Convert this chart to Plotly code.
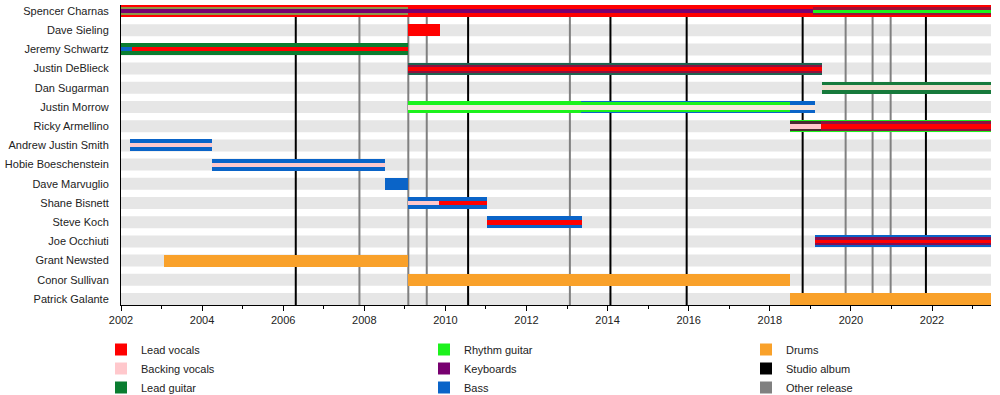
import plotly.graph_objects as go

# ---------------- data ----------------
members = ["Spencer Charnas", "Dave Sieling", "Jeremy Schwartz", "Justin DeBlieck",
           "Dan Sugarman", "Justin Morrow", "Ricky Armellino", "Andrew Justin Smith",
           "Hobie Boeschenstein", "Dave Marvuglio", "Shane Bisnett", "Steve Koch",
           "Joe Occhiuti", "Grant Newsted", "Conor Sullivan", "Patrick Galante"]

timeline_start = 2002.0
timeline_end = 2023.455

# one entry per bar segment: member, start, end, colour key, layer
seg_member = ["Spencer Charnas", "Spencer Charnas", "Spencer Charnas", "Spencer Charnas", "Spencer Charnas",
              "Dave Sieling",
              "Jeremy Schwartz", "Jeremy Schwartz", "Jeremy Schwartz",
              "Justin DeBlieck", "Justin DeBlieck", "Justin DeBlieck",
              "Dan Sugarman", "Dan Sugarman",
              "Justin Morrow", "Justin Morrow", "Justin Morrow", "Justin Morrow",
              "Ricky Armellino", "Ricky Armellino", "Ricky Armellino", "Ricky Armellino", "Ricky Armellino",
              "Andrew Justin Smith", "Andrew Justin Smith",
              "Hobie Boeschenstein", "Hobie Boeschenstein",
              "Dave Marvuglio",
              "Shane Bisnett", "Shane Bisnett", "Shane Bisnett",
              "Steve Koch", "Steve Koch",
              "Joe Occhiuti", "Joe Occhiuti", "Joe Occhiuti",
              "Grant Newsted", "Conor Sullivan", "Patrick Galante"]
seg_start = [2002.0, 2002.0, 2002.0, 2019.07, 2019.07,
             2009.08,
             2002.0, 2002.0, 2002.27,
             2009.08, 2009.08, 2009.08,
             2019.29, 2019.29,
             2009.08, 2013.35, 2013.35, 2009.08,
             2018.49, 2018.49, 2019.26, 2018.49, 2019.26,
             2002.23, 2002.23,
             2004.25, 2004.25,
             2008.5,
             2009.08, 2009.08, 2009.85,
             2011.03, 2011.03,
             2019.12, 2019.12, 2019.12,
             2003.07, 2009.08, 2018.49]
seg_end = [2023.455, 2009.08, 2019.07, 2023.455, 2023.455,
           2009.87,
           2009.08, 2002.27, 2009.08,
           2019.29, 2019.29, 2019.29,
           2023.455, 2023.455,
           2013.35, 2019.12, 2018.49, 2019.12,
           2023.455, 2019.26, 2023.455, 2019.26, 2023.455,
           2004.25, 2004.25,
           2008.5, 2008.5,
           2009.08,
           2011.03, 2009.85, 2011.03,
           2013.37, 2013.37,
           2023.455, 2023.455, 2023.455,
           2009.08, 2018.49, 2023.455]
seg_color = ["vocals", "olive", "keys", "crimson", "rhythm",
             "vocals",
             "lead", "bass", "vocals",
             "teal", "wine", "vocals",
             "dgreen", "beige",
             "rhythm", "bass", "rhythm", "cream",
             "rhythm", "darkmix", "wine", "backing", "vocals",
             "bass", "backing",
             "bass", "backing",
             "bass",
             "bass", "backing", "vocals",
             "bass", "vocals",
             "bass", "plum", "vocals",
             "drums", "drums", "drums"]
seg_layer = ["full", "mid", "center", "mid", "thin",
             "full",
             "full", "center", "center",
             "full", "mid", "center",
             "full", "narrow",
             "full", "full", "wide", "narrow",
             "full", "wide", "wide", "narrow", "narrow",
             "full", "center",
             "full", "center",
             "full",
             "full", "center", "center",
             "full", "narrow",
             "full", "mid", "thin",
             "full", "full", "full"]

studio_albums = [2006.31, 2010.56, 2014.07, 2015.95, 2018.81, 2021.85]
other_releases = [2007.88, 2009.085, 2009.54, 2013.07, 2019.87, 2020.535, 2020.98]

legend_labels = [["Lead vocals", "Backing vocals", "Lead guitar"],
                 ["Rhythm guitar", "Keyboards", "Bass"],
                 ["Drums", "Studio album", "Other release"]]
legend_keys = [["vocals", "backing", "lead"],
               ["rhythm", "keys", "bass"],
               ["drums", "studio", "other"]]

# ---------------- style ----------------
colors = {
    "vocals": "#ff0000", "backing": "#ffc8cc", "lead": "#0a7d30", "rhythm": "#1cf21c",
    "keys": "#780070", "bass": "#0a64c8", "drums": "#f9a12a",
    "studio": "#000000", "other": "#808080",
    "olive": "#8e9648", "crimson": "#9c1038", "teal": "#1e6450", "wine": "#8a1440",
    "dgreen": "#177a3c", "beige": "#efdccf", "cream": "#f6e6de", "darkmix": "#4a2a30",
    "plum": "#8a0c4c",
}
row_px = 19.2
layer_px = {"full": 12, "wide": 10, "mid": 8, "narrow": 5, "center": 4, "thin": 3}
band_color = "#e6e6e6"
font_family = "Liberation Sans, Arial, sans-serif"

row_of = {m: i for i, m in enumerate(members)}
half = 6 / row_px
y_range = [len(members) - 1 + half, -half]

fig = go.Figure()

for m, s, e, c, l in zip(seg_member, seg_start, seg_end, seg_color, seg_layer):
    fig.add_trace(go.Bar(
        orientation="h", y=[row_of[m]], x=[e - s], base=[s],
        width=layer_px[l] / row_px, marker=dict(color=colors[c], line=dict(width=0)),
        showlegend=False, hoverinfo="skip"))

shapes = []
for i in range(len(members)):
    shapes.append(dict(type="rect", xref="x", yref="y", x0=timeline_start, x1=timeline_end,
                       y0=i - half, y1=i + half, fillcolor=band_color,
                       line=dict(width=0), layer="below"))
for d in other_releases:
    shapes.append(dict(type="line", xref="x", yref="y", x0=d, x1=d,
                       y0=y_range[0], y1=0,
                       line=dict(color=colors["other"], width=2), layer="below"))
for d in studio_albums:
    shapes.append(dict(type="line", xref="x", yref="y", x0=d, x1=d,
                       y0=y_range[0], y1=0,
                       line=dict(color=colors["studio"], width=2), layer="below"))

legend_names = ["legend", "legend2", "legend3"]
for lg, labels, keys in zip(legend_names, legend_labels, legend_keys):
    for lab, k in zip(labels, keys):
        fig.add_trace(go.Bar(orientation="h", x=[None], y=[None], name=lab,
                             marker=dict(color=colors[k], line=dict(width=0)),
                             legend=lg, showlegend=True))

leg_common = dict(orientation="v", yanchor="top", y=-0.10, xanchor="left",
                  font=dict(family=font_family, size=11, color="#222"),
                  bgcolor="rgba(0,0,0,0)", borderwidth=0, traceorder="normal")

fig.update_layout(
    width=1000, height=395,
    margin=dict(l=121, r=9, t=5, b=90, autoexpand=False),
    paper_bgcolor="white", plot_bgcolor="white",
    barmode="overlay", bargap=0,
    font=dict(family=font_family, size=11, color="#222"),
    shapes=shapes,
    legend=dict(x=-0.023, **leg_common),
    legend2=dict(x=0.3483, **leg_common),
    legend3=dict(x=0.7184, **leg_common),
    xaxis=dict(range=[timeline_start, timeline_end], showgrid=False, zeroline=False,
               showline=True, linecolor="black", linewidth=1,
               tickmode="linear", tick0=2002, dtick=2, ticks="outside", ticklen=5,
               tickcolor="black", tickfont=dict(size=11, color="#222"),
               minor=dict(dtick=1, ticks="outside", ticklen=3, tickcolor="black")),
    yaxis=dict(range=y_range, showgrid=False, zeroline=False,
               showline=True, linecolor="black", linewidth=1,
               tickmode="array", tickvals=list(range(len(members))), ticktext=members,
               ticks="", ticklabelstandoff=9, tickfont=dict(size=11, color="#222")),
)

fig.write_html("out.html", config={"displayModeBar": False},
               post_script="document.body.style.margin='0px';document.body.style.overflow='hidden';")
